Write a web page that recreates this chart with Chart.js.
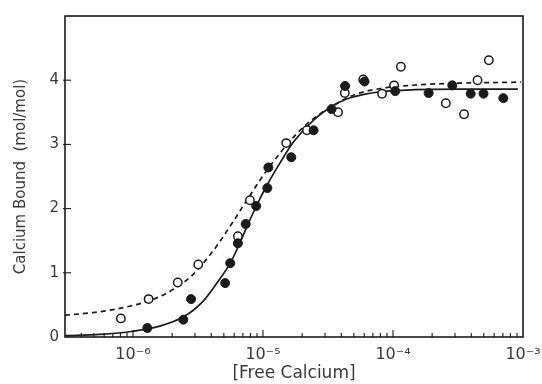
<!DOCTYPE html>
<html>
<head>
<meta charset="utf-8">
<script src="https://cdn.jsdelivr.net/npm/chart.js@4"></script>
<style>
  html, body { margin: 0; padding: 0; background: #fff; }
  #wrap { width: 542px; height: 384px; position: relative; }
</style>
</head>
<body>
<div id="wrap"><canvas id="chart-calcium"></canvas></div>
<script>
// free calcium (M) vs calcium bound (mol/mol)
const filledX = [1.29e-6, 2.44e-6, 2.80e-6, 5.12e-6, 5.60e-6, 6.41e-6, 7.36e-6, 8.87e-6, 1.08e-5, 1.10e-5,
                 1.65e-5, 2.45e-5, 3.37e-5, 4.28e-5, 6.04e-5, 1.04e-4, 1.88e-4, 2.86e-4, 3.96e-4, 4.97e-4, 7.06e-4];
const filledY = [0.14, 0.27, 0.59, 0.84, 1.15, 1.46, 1.76, 2.04, 2.32, 2.64,
                 2.80, 3.22, 3.55, 3.91, 3.98, 3.83, 3.80, 3.92, 3.79, 3.79, 3.72];

const openX = [8.07e-7, 1.32e-6, 2.21e-6, 3.18e-6, 6.41e-6, 7.94e-6, 1.51e-5, 2.18e-5, 3.78e-5,
               4.26e-5, 5.90e-5, 8.24e-5, 1.02e-4, 1.15e-4, 2.55e-4, 3.52e-4, 4.47e-4, 5.46e-4];
const openY = [0.29, 0.59, 0.85, 1.13, 1.57, 2.13, 3.02, 3.22, 3.50,
               3.80, 4.01, 3.79, 3.92, 4.21, 3.64, 3.47, 4.00, 4.31];

// fitted curves
const solidX = [3.0e-7, 5.57e-7, 1.0e-6, 1.61e-6, 2.43e-6, 3.47e-6, 4.42e-6, 5.60e-6, 6.49e-6, 7.53e-6, 8.99e-6,
                1.07e-5, 1.36e-5, 1.72e-5, 2.45e-5, 3.30e-5, 4.45e-5, 5.97e-5, 8.02e-5, 1.37e-4, 3.32e-4, 9.14e-4];
const solidY = [0.02, 0.04, 0.09, 0.17, 0.31, 0.56, 0.84, 1.15, 1.42, 1.72, 2.06,
                2.36, 2.72, 3.04, 3.38, 3.58, 3.71, 3.78, 3.82, 3.85, 3.86, 3.86];

const dashedX = [3.0e-7, 4.92e-7, 8.07e-7, 1.31e-6, 1.77e-6, 2.22e-6, 2.75e-6, 3.18e-6, 3.81e-6, 4.42e-6, 4.97e-6,
                 5.60e-6, 6.31e-6, 7.08e-6, 8.22e-6, 9.53e-6, 1.14e-5, 1.36e-5, 1.53e-5, 2.18e-5, 3.30e-5,
                 4.31e-5, 5.31e-5, 8.02e-5, 1.37e-4, 2.78e-4, 9.64e-4];
const dashedY = [0.34, 0.38, 0.45, 0.56, 0.67, 0.79, 0.93, 1.06, 1.25, 1.42, 1.57,
                 1.73, 1.89, 2.05, 2.25, 2.45, 2.67, 2.87, 3.00, 3.32, 3.58,
                 3.71, 3.79, 3.87, 3.92, 3.95, 3.97];

const xDecades = [-6, -5, -4, -3];
const xTickLabels = ['10⁻⁶', '10⁻⁵', '10⁻⁴', '10⁻³'];
const yTickLabels = ['0', '1', '2', '3', '4'];

const toPoints = (xs, ys) => xs.map((x, i) => ({ x: x, y: ys[i] }));

const ink = '#1a1a1a';
const textColor = '#3a3a3a';

function isWhole(v) {
    return Math.abs(v - Math.round(v)) < 1e-6;
}

// box round the plot plus inward tick marks, like the printed figure
const framePlugin = {
    id: 'frame',
    afterDraw(chart) {
        const { ctx, chartArea: a, scales: { x, y } } = chart;
        ctx.save();
        ctx.strokeStyle = ink;
        ctx.lineWidth = 1.6;
        ctx.strokeRect(a.left, a.top, a.right - a.left, a.bottom - a.top);
        ctx.lineWidth = 1.1;
        x.ticks.forEach(t => {
            const lg = Math.log10(t.value);
            const mant = t.value / Math.pow(10, Math.floor(lg + 1e-9));
            if (!isWhole(mant)) return;
            const px = x.getPixelForValue(t.value);
            if (px <= a.left + 1 || px >= a.right - 1) return;
            const len = isWhole(lg) ? 7 : 4;
            ctx.beginPath();
            ctx.moveTo(px, a.bottom);
            ctx.lineTo(px, a.bottom - len);
            ctx.stroke();
        });
        y.ticks.forEach(t => {
            const py = y.getPixelForValue(t.value);
            if (py <= a.top + 1 || py >= a.bottom - 1) return;
            ctx.beginPath();
            ctx.moveTo(a.left - 2, py);
            ctx.lineTo(a.left + 6, py);
            ctx.stroke();
        });
        ctx.restore();
    }
};

new Chart(document.getElementById('chart-calcium'), {
    type: 'scatter',
    data: {
        datasets: [
            {
                label: 'filled',
                data: toPoints(filledX, filledY),
                pointRadius: 4.5,
                pointBackgroundColor: ink,
                pointBorderColor: ink,
                pointBorderWidth: 1,
                showLine: false,
                order: 0,
            },
            {
                label: 'open',
                data: toPoints(openX, openY),
                pointRadius: 4.2,
                pointBackgroundColor: '#fff',
                pointBorderColor: ink,
                pointBorderWidth: 1.5,
                showLine: false,
                order: 1,
            },
            {
                label: 'solid fit',
                data: toPoints(solidX, solidY),
                showLine: true,
                pointRadius: 0,
                borderColor: ink,
                borderWidth: 1.7,
                cubicInterpolationMode: 'monotone',
                order: 2,
            },
            {
                label: 'dashed fit',
                data: toPoints(dashedX, dashedY),
                showLine: true,
                pointRadius: 0,
                borderColor: ink,
                borderWidth: 1.7,
                borderDash: [5, 4],
                cubicInterpolationMode: 'monotone',
                order: 3,
            },
        ]
    },
    options: {
        responsive: true,
        maintainAspectRatio: false,
        animation: false,
        layout: { padding: { top: 16, right: 19, left: 0, bottom: 0 } },
        scales: {
            x: {
                type: 'logarithmic',
                min: 3e-7,
                max: 1e-3,
                afterFit: s => { s.height = 47; s.paddingLeft = 0; s.paddingRight = 0; },
                grid: { display: false, drawTicks: false },
                border: { display: false },
                ticks: {
                    autoSkip: false,
                    maxRotation: 0,
                    padding: 8,
                    color: textColor,
                    font: { family: 'DejaVu Sans', size: 16 },
                    callback: v => {
                        const lg = Math.log10(v);
                        if (!isWhole(lg)) return '';
                        const i = xDecades.indexOf(Math.round(lg));
                        return i >= 0 ? xTickLabels[i] : '';
                    }
                },
                title: {
                    display: true,
                    text: '[Free Calcium]',
                    color: textColor,
                    font: { family: 'DejaVu Sans', size: 17 },
                    padding: { top: 0, bottom: 0 }
                }
            },
            y: {
                min: 0,
                max: 5,
                afterFit: s => { s.width = 65; s.paddingTop = 0; s.paddingBottom = 0; },
                grid: { display: false, drawTicks: false },
                border: { display: false },
                ticks: {
                    stepSize: 1,
                    padding: 6,
                    color: textColor,
                    font: { family: 'DejaVu Sans', size: 15 },
                    callback: v => yTickLabels[v] !== undefined ? yTickLabels[v] : ''
                },
                title: {
                    display: true,
                    text: 'Calcium Bound  (mol/mol)',
                    color: textColor,
                    font: { family: 'DejaVu Sans', size: 15 },
                    padding: { top: 12, bottom: 0 }
                }
            }
        },
        plugins: {
            legend: { display: false },
            tooltip: { enabled: false }
        }
    },
    plugins: [framePlugin]
});
</script>
</body>
</html>
